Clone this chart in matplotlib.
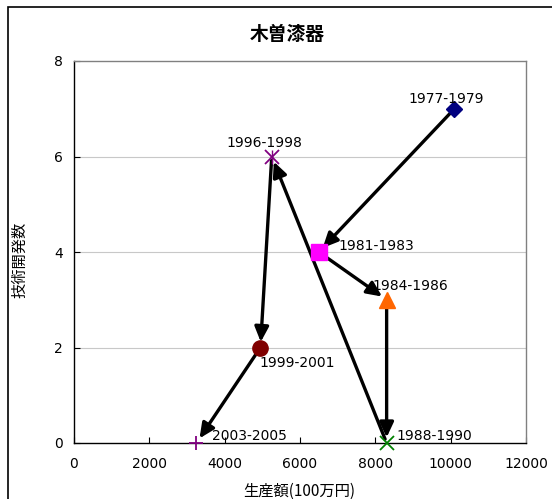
import matplotlib
matplotlib.use("Agg")
import matplotlib.pyplot as plt
from matplotlib.patches import Rectangle

plt.rcParams['font.family'] = ['DejaVu Sans', 'Noto Sans CJK JP']
CJK = ['Noto Sans CJK JP', 'DejaVu Sans']

periods = ["1977-1979", "1981-1983", "1984-1986", "1988-1990",
           "1996-1998", "1999-2001", "2003-2005"]
production = [10100, 6500, 8300, 8300, 5250, 4950, 3250]   # 100万円
developments = [7, 4, 3, 0, 6, 2, 0]

markers = ["D", "s", "^", "x", "x", "o", "+"]
colors = ["#000080", "#FF00FF", "#FF6600", "#008000", "#800080", "#800000", "#800080"]
sizes = [8, 11, 11, 10, 10, 11, 10]

# label offsets in points and alignment
label_offsets = [(-6, 7, "center"), (14, 4, "left"), (17, 10, "center"),
                 (7, 5, "left"), (-5, 10, "center"), (-1, -11, "left"),
                 (11, 5, "left")]

xticks = [0, 2000, 4000, 6000, 8000, 10000, 12000]
yticks = [0, 2, 4, 6, 8]

fig = plt.figure(figsize=(5.52, 4.99), dpi=100)
ax = fig.add_axes([74 / 552, 1 - 443 / 499, (526 - 74) / 552, (443 - 61) / 499])

# outer chart frame
fig.patches.append(Rectangle((8 / 552, -0.1), 1.2, 1 - 7 / 499 + 0.1,
                             transform=fig.transFigure, fill=False,
                             edgecolor="black", linewidth=1.2, zorder=0))

ax.set_xlim(0, 12000)
ax.set_ylim(0, 8)
ax.set_xticks(xticks)
ax.set_yticks(yticks)
ax.tick_params(direction="in", length=4, width=0.8, labelsize=10, pad=8)
ax.tick_params(axis="x", pad=10)
for y in yticks[1:-1]:
    ax.axhline(y, color="#C8C8C8", linewidth=0.8, zorder=0)

for side in ["top", "right"]:
    ax.spines[side].set_color("#808080")
    ax.spines[side].set_linewidth(1.0)
for side in ["left", "bottom"]:
    ax.spines[side].set_color("black")
    ax.spines[side].set_linewidth(1.0)

# arrows in chronological order
for i in range(len(periods) - 1):
    ax.annotate("", xy=(production[i + 1], developments[i + 1]),
                xytext=(production[i], developments[i]),
                arrowprops=dict(arrowstyle="-|>,head_length=0.9,head_width=0.42",
                                color="black", lw=2.4, shrinkA=3, shrinkB=4),
                zorder=3, annotation_clip=False)

for x, y, m, c, s in zip(production, developments, markers, colors, sizes):
    mew = 1.3 if m in ("x", "+") else 1.0
    ax.plot(x, y, marker=m, color=c, markersize=s, markeredgewidth=mew,
            linestyle="none", zorder=4, clip_on=False)
    if m == "x" and y == 6:
        ax.plot(x, y, marker="|", color=c, markersize=s, markeredgewidth=1.0,
                zorder=4, clip_on=False)

for x, y, p, (dx, dy, ha) in zip(production, developments, periods, label_offsets):
    ax.annotate(p, xy=(x, y), xytext=(dx, dy), textcoords="offset points",
                ha=ha, va="center", fontsize=10, zorder=5, annotation_clip=False)

fig.text(287 / 552, 1 - 35 / 499, "木曽漆器", ha="center", va="center",
         fontsize=13.5, fontweight="bold", family=CJK)
fig.text(299 / 552, 1 - 491 / 499, "生産額(100万円)", ha="center", va="center",
         fontsize=11, family=CJK)
fig.text(20 / 552, 1 - 260 / 499, "技術開発数", ha="center", va="center",
         rotation=90, fontsize=11, family=CJK)

fig.savefig("out.png", dpi=100)
